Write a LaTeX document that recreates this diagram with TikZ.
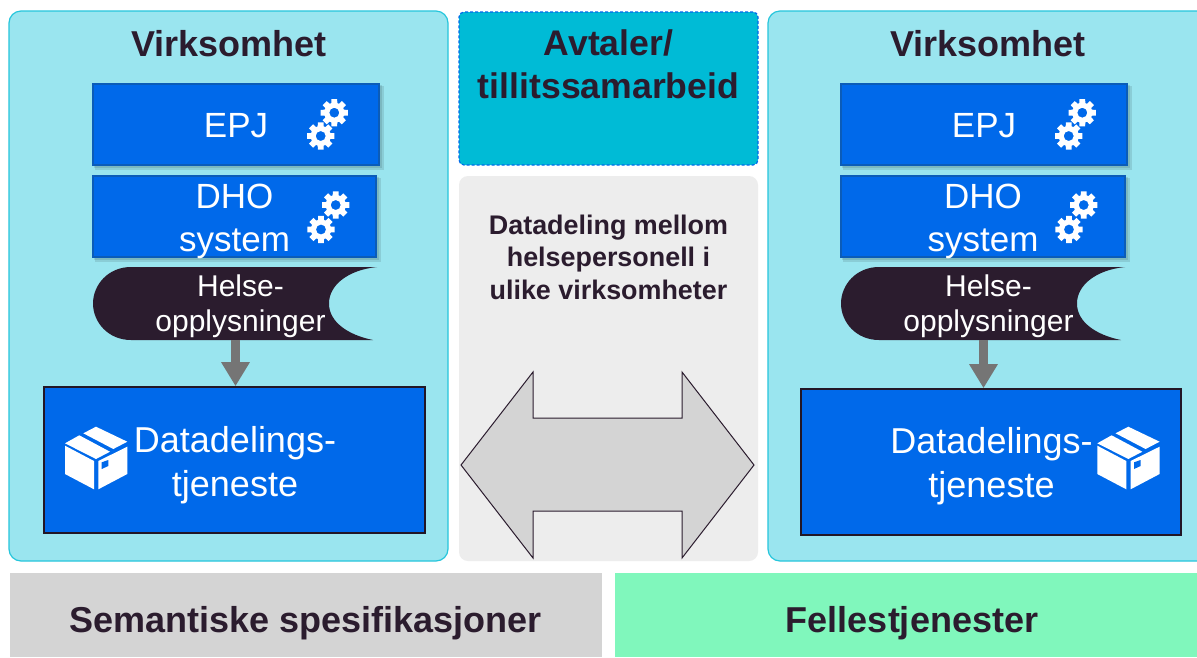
\documentclass[tikz,border=0pt]{standalone}
\usepackage{fontspec}
\setmainfont{Liberation Sans}
\usetikzlibrary{arrows.meta}
\definecolor{panelfill}{HTML}{9AE5EF}
\definecolor{panelline}{HTML}{26C6DC}
\definecolor{blue}{HTML}{0069EA}
\definecolor{blueline}{HTML}{0B5CB8}
\definecolor{ink}{HTML}{2B1C2E}
\definecolor{teal}{HTML}{00BBD6}
\definecolor{lightgrey}{HTML}{EDEDED}
\definecolor{midgrey}{HTML}{D4D4D4}
\definecolor{mint}{HTML}{80F7BC}
\definecolor{arrowgrey}{HTML}{757575}
\tikzset{
  x=1pt,y=-1pt,
  panel/.style={fill=panelfill,draw=panelline,line width=1.2pt,rounded corners=12pt},
  bluebox/.style={fill=blue,draw=blueline,line width=1.2pt},
  shade1/.style={fill=black,opacity=.10,draw=none},
  sharebox/.style={fill=blue,draw=ink!80!black,line width=1.6pt},
  headtext/.style={font=\fontsize{36}{43}\selectfont\bfseries,text=ink,align=center,inner sep=0pt},
  agreetext/.style={font=\fontsize{35.6}{43}\selectfont\bfseries,text=ink,align=center,inner sep=0pt},
  bigtext/.style={font=\fontsize{35}{43}\selectfont,text=white,align=center,inner sep=0pt},
  sharetext/.style={font=\fontsize{36}{44}\selectfont,text=white,align=center,inner sep=0pt},
  smalltext/.style={font=\fontsize{30}{35}\selectfont,text=white,align=center,inner sep=0pt},
  midtext/.style={font=\fontsize{26.9}{32.5}\selectfont\bfseries,text=ink,align=center,inner sep=0pt},
  flowarrow/.style={draw=arrowgrey,line width=9pt,-{Triangle[length=24pt,width=27pt]}},
  holder/.style={minimum width=285pt,minimum height=73pt,inner sep=0pt},
  gearicon/.pic={
    \fill[white,even odd rule]
      (-17:10.2)
      \foreach \a in {0,45,...,315}{
        -- (\a-17:10.2) -- (\a-12:13.9) -- (\a+12:13.9) -- (\a+17:10.2) -- (\a+22.5:9.9)
      } -- cycle
      (0,0) circle[radius=5];
  },
  boxicon/.pic={
    \fill[white] (-31,-12.3) -- (-2,3) -- (-2,31.3) -- (-31,16) -- cycle;
    \fill[white] (2.3,3) -- (31.3,-11.3) -- (31.3,16) -- (2.3,31.3) -- cycle;
    \fill[white] (-31,-14.7) -- (-16.7,-22.7) -- (14,-6.3) -- (0,1) -- cycle;
    \fill[white] (-12.7,-24.7) -- (0,-31.3) -- (31.3,-16.3) -- (17.3,-9) -- cycle;
    \fill[blue] (5.7,4.3) -- (12.3,2) -- (12.3,8) -- (5.7,11) -- cycle;
  },
}
\newcommand{\helseshape}[1]{%
  \fill[ink,xshift=#1pt] (377,267) -- (131,267)
    .. controls (108,267) and (93,285) .. (93,303.5)
    .. controls (93,322) and (108,340) .. (131,340) -- (373,340)
    .. controls (348,335) and (329,322) .. (329,303.5)
    .. controls (329,285) and (348,270) .. (377,267) -- cycle;}
\newcommand{\softshadow}[4]{%
  \fill[shade1] (#1+1,#2+1) rectangle (#3+3,#4+3);
  \fill[shade1] (#1+2,#2+2) rectangle (#3+4.5,#4+4.5);}
\begin{document}
\begin{tikzpicture}
\useasboundingbox (0,0) rectangle (1197,657);
\fill[white] (0,0) rectangle (1197,657);
% panels
\path[panel] (9,11) rectangle (448,561);
\begin{scope}
\clip (0,0) rectangle (1197,657);
\fill[panelfill,rounded corners=12pt] (768,11) rectangle (1230,561);
\draw[panel,fill=none] (1230,11) -- (768,11) -- (768,561) -- (1230,561);
\end{scope}
\node[fill=teal,draw=blue,densely dashed,line width=1.2pt,rounded corners=5pt,minimum width=299pt,minimum height=153pt,inner sep=0pt] (agree) at (608.5,88.5) {};
\node[fill=lightgrey,rounded corners=9pt,minimum width=299pt,minimum height=385pt,inner sep=0pt] (share) at (608.5,368.5) {};
\node[fill=midgrey,minimum width=592pt,minimum height=84pt,inner sep=0pt] (semantic) at (306,615) {};
\node[fill=mint,minimum width=582pt,minimum height=84pt,inner sep=0pt] (common) at (906,615) {};
\node[headtext] (semantictext) at (305.5,623) {Semantiske spesifikasjoner};
\node[headtext] (commontext) at (912,623) {Fellestjenester};
\node[headtext] (vL) at (229,44) {Virksomhet};
\node[headtext] (vR) at (988,44) {Virksomhet};
\node[agreetext] (agreelabel) at (608.5,64) {Avtaler/\\tillitssamarbeid};
\node[midtext] (sharetext) at (608.5,257) {Datadeling mellom\\helsepersonell i\\ulike virksomheter};
% double arrow
\draw[fill=midgrey,draw=ink,line width=1pt,line join=miter]
  (461,465) -- (533,372) -- (533,418) -- (682,418) -- (682,372) -- (754,465)
  -- (682,558) -- (682,511) -- (533,511) -- (533,558) -- cycle;
% left column
\softshadow{93}{84}{379}{165}
\softshadow{93}{176}{376}{257}
\node[bluebox,minimum width=286pt,minimum height=81pt,inner sep=0pt] (epjL) at (236,124.5) {};
\node[bluebox,minimum width=283pt,minimum height=81pt,inner sep=0pt] (dhoL) at (234.5,216.5) {};
\node[bigtext] (epjLt) at (236,126) {EPJ};
\node[bigtext] (dhoLt) at (234.5,221.5) {DHO\\system};
\pic at (334.3,112.7) {gearicon};
\pic at (320.7,136) {gearicon};
\pic at (335.7,205) {gearicon};
\pic at (321,229.5) {gearicon};
\helseshape{0}
\node[holder] (hL) at (235.5,303.5) {};
\node[smalltext] (hLt) at (240.5,306) {Helse-\\opplysninger};
\node[sharebox,minimum width=381pt,minimum height=146pt,inner sep=0pt] (dL) at (234.5,460) {};
\draw[flowarrow] (hL.south) -- (hL.south |- dL.north);
\pic at (96,458) {boxicon};
\node[sharetext] (dLt) at (235,465) {Datadelings-\\tjeneste};
% right column
\softshadow{841}{84}{1127}{165}
\softshadow{841}{176}{1125}{257}
\node[bluebox,minimum width=286pt,minimum height=81pt,inner sep=0pt] (epjR) at (984,124.5) {};
\node[bluebox,minimum width=284pt,minimum height=81pt,inner sep=0pt] (dhoR) at (983,216.5) {};
\node[bigtext] (epjRt) at (984,126) {EPJ};
\node[bigtext] (dhoRt) at (983,221.5) {DHO\\system};
\pic at (1082.3,112.7) {gearicon};
\pic at (1068.7,136) {gearicon};
\pic at (1083.7,205) {gearicon};
\pic at (1069,229.5) {gearicon};
\helseshape{748}
\node[holder] (hR) at (983.5,303.5) {};
\node[smalltext] (hRt) at (988.5,306) {Helse-\\opplysninger};
\node[sharebox,minimum width=380pt,minimum height=146pt,inner sep=0pt] (dR) at (991,462) {};
\draw[flowarrow] (hR.south) -- (hR.south |- dR.north);
\pic at (1128.3,458) {boxicon};
\node[sharetext] (dRt) at (991.5,466) {Datadelings-\\tjeneste};
\end{tikzpicture}
\end{document}
